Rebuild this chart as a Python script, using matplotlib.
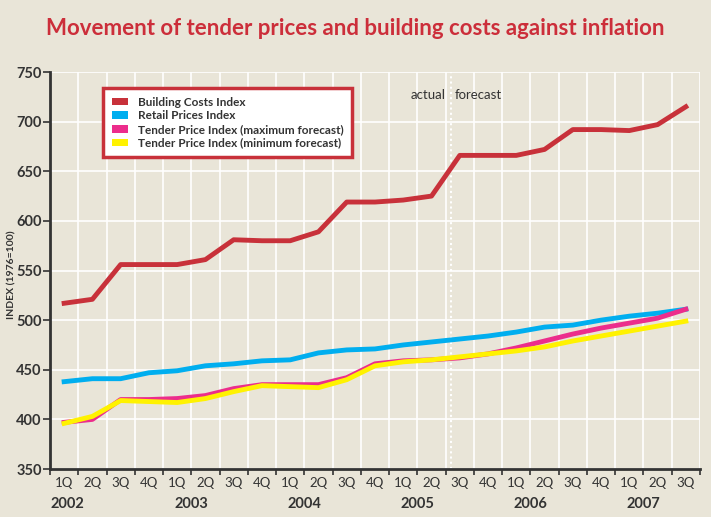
import numpy as np
import matplotlib
matplotlib.use('Agg')
import matplotlib.pyplot as plt
from matplotlib.patches import Patch
from matplotlib.transforms import blended_transform_factory

plt.rcParams['font.family'] = ['Lato', 'DejaVu Sans']

BG = '#E9E5D8'
DARK = '#333333'

quarters = ['1Q', '2Q', '3Q', '4Q'] * 5 + ['1Q', '2Q', '3Q']
years = ['2002', '2003', '2004', '2005', '2006', '2007']
year_pos = [0.6, 5, 9, 13, 17, 21]

building = [517, 521, 556, 556, 556, 561, 581, 580, 580, 589, 619, 619,
            621, 625, 666, 666, 666, 672, 692, 692, 691, 697, 715]
retail = [438, 441, 441, 447, 449, 454, 456, 459, 460, 467, 470, 471,
          475, 478, 481, 484, 488, 493, 495, 500, 504, 507, 511]
tender_max = [397, 400, 420, 420, 421, 424, 431, 435, 435, 435, 442, 456,
              459, 460, 462, 466, 472, 479, 486, 492, 497, 502, 511]
tender_min = [396, 403, 419, 418, 417, 421, 428, 434, 433, 432, 440, 454,
              458, 460, 463, 466, 469, 473, 479, 484, 489, 494, 499]

names = ['Building Costs Index', 'Retail Prices Index',
         'Tender Price Index (maximum forecast)',
         'Tender Price Index (minimum forecast)']
colors = ['#C8313A', '#00AEEF', '#EC2D8C', '#FFF200']

fig = plt.figure(figsize=(7.11, 5.17), dpi=100, facecolor=BG)
ax = fig.add_axes([0.0703, 0.0928, 0.9142, 0.7679], facecolor=BG)

x = np.arange(len(quarters)) + 0.5
lw = 3.5
ax.plot(x, building, color=colors[0], lw=lw, zorder=3)
ax.plot(x, retail, color=colors[1], lw=lw, zorder=3)
ax.plot(x, tender_max, color=colors[2], lw=lw, zorder=4)
ax.plot(x, tender_min, color=colors[3], lw=lw, zorder=5)

ax.set_xlim(0, len(quarters))
ax.set_ylim(350, 750)

ax.set_yticks(np.arange(350, 751, 50))
ax.tick_params(axis='y', direction='out', length=5, width=1.2, color=DARK,
               labelsize=10.5, labelcolor=DARK, pad=1)
for lab in ax.get_yticklabels():
    lab.set_fontweight('bold')

ax.set_xticks(np.arange(0, len(quarters) + 1))
ax.set_xticklabels([])
ax.set_xticks(x, minor=True)
ax.set_xticklabels(quarters, minor=True)
ax.tick_params(axis='x', which='major', direction='out', length=4, width=1.2, color=DARK)
ax.tick_params(axis='x', which='minor', length=0, labelsize=9.5, labelcolor=DARK, pad=6)

ax.grid(True, which='major', color='white', lw=1.2, zorder=1)
ax.set_axisbelow(True)

for s in ['top', 'right']:
    ax.spines[s].set_visible(False)
for s in ['left', 'bottom']:
    ax.spines[s].set_color(DARK)
    ax.spines[s].set_linewidth(2)
    ax.spines[s].set_zorder(6)

tr = blended_transform_factory(ax.transData, ax.transAxes)
for yr, p in zip(years, year_pos):
    ax.text(p, -0.088, yr, transform=tr, ha='center', va='center',
            fontsize=10.5, fontweight='bold', color=DARK)

# actual / forecast divider
ax.axvline(14.2, color='white', lw=1.5, ls=(0, (1, 1.5)), zorder=2)
ax.text(13.37, 727, 'actual', ha='center', va='center', fontsize=9.5, color=DARK)
ax.text(15.15, 727, 'forecast', ha='center', va='center', fontsize=9.5, color=DARK)

ax.set_ylabel('INDEX (1976=100)', fontsize=7.5, fontweight='bold', color=DARK)
ax.yaxis.set_label_coords(-0.052, 0.49)

handles = [Patch(facecolor=c, edgecolor='none') for c in colors]
leg = fig.legend(handles, names, loc='upper left', bbox_to_anchor=(0.145, 0.83),
                 frameon=True, fancybox=False, fontsize=8.5, handlelength=1.4,
                 handleheight=0.6, handletextpad=0.8, labelspacing=0.22,
                 borderpad=0.75, borderaxespad=0)
frame = leg.get_frame()
frame.set_facecolor('white')
frame.set_edgecolor('#C8313A')
frame.set_linewidth(2.5)
frame.set_alpha(1)
for t in leg.get_texts():
    t.set_fontweight('bold')
    t.set_color(DARK)

fig.text(0.5, 0.944, 'Movement of tender prices and building costs against inflation',
         ha='center', va='center', fontsize=16, fontweight='bold', color='#CC2E3A')

fig.savefig('out.png', dpi=100, facecolor=BG)
